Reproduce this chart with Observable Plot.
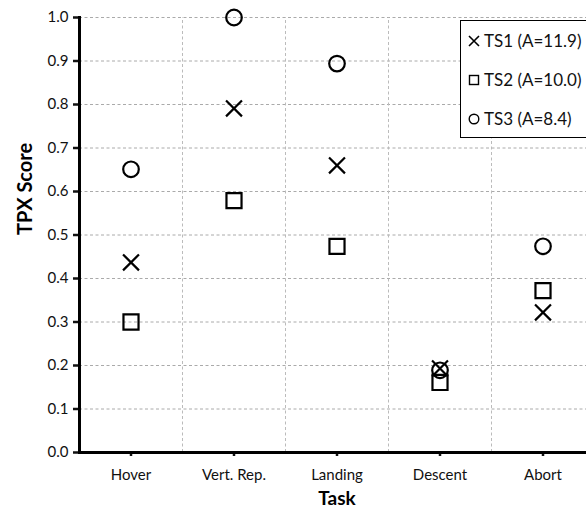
<!DOCTYPE html>
<html>
<head>
<meta charset="utf-8">
<script src="https://cdn.jsdelivr.net/npm/d3@7"></script>
<script src="https://cdn.jsdelivr.net/npm/@observablehq/plot@0.6"></script>
<style>
  html, body { margin: 0; padding: 0; background: #fff; }
  #wrap { position: relative; width: 586px; height: 514px; overflow: hidden; font-family: Lato, "Open Sans", sans-serif; }
  #legend { position: absolute; left: 460px; top: 20px; width: 140px; height: 118px; border: 1.5px solid #000; background: #fff; box-sizing: border-box; }
  .row { position: absolute; left: 7px; display: flex; align-items: center; font-size: 17px; color: #111; white-space: nowrap; }
  .row svg { margin-right: 4px; }
</style>
</head>
<body>
<div id="wrap"></div>
<script>
const tasks = ["Hover", "Vert. Rep.", "Landing", "Descent", "Abort"];
const seriesNames = ["TS1 (A=11.9)", "TS2 (A=10.0)", "TS3 (A=8.4)"];
const ts1 = [0.437, 0.791, 0.660, 0.193, 0.322];
const ts2 = [0.300, 0.579, 0.474, 0.161, 0.372];
const ts3 = [0.651, 1.000, 0.894, 0.189, 0.474];
const yTicks = [0, 0.1, 0.2, 0.3, 0.4, 0.5, 0.6, 0.7, 0.8, 0.9, 1.0];

const mk = vals => tasks.map((t, i) => ({task: t, value: vals[i]}));
const d1 = mk(ts1), d2 = mk(ts2), d3v = mk(ts3);

const xRange = [79, 594];
const bw = (xRange[1] - xRange[0]) / tasks.length;

const chart = Plot.plot({
  width: 586,
  height: 514,
  marginLeft: 79,
  marginTop: 17,
  marginBottom: 62,
  marginRight: 0,
  style: {fontFamily: "Lato, 'Open Sans', sans-serif", fontSize: "15px", color: "#111", background: "#fff", overflow: "visible"},
  x: {type: "band", domain: tasks, range: xRange, padding: 0, align: 0.5, label: null},
  y: {domain: [0, 1], ticks: yTicks, label: null},
  marks: [
    Plot.gridY(yTicks, {stroke: "#aaa", strokeOpacity: 1, strokeDasharray: "3,2.5"}),
    Plot.ruleX(tasks.slice(1), {dx: -bw / 2, stroke: "#bbb", strokeOpacity: 1, strokeDasharray: "3,2.5", y1: 0, y2: 1}),
    Plot.axisY(yTicks, {tickFormat: d3.format(".1f"), tickSize: 6, tickPadding: 5, strokeWidth: 2.5, fontSize: 15, label: null}),
    Plot.axisX({tickSize: 4, tickPadding: 13, strokeWidth: 2.5, fontSize: 15, label: null}),
    Plot.ruleY([0], {strokeWidth: 3, stroke: "#000"}),
    Plot.frame({anchor: "left", strokeWidth: 3, stroke: "#000"}),
    Plot.dot(d2, {x: "task", y: "value", symbol: "square", r: 8.5, stroke: "#000", strokeWidth: 2.2, fill: "none"}),
    Plot.dot(d3v, {x: "task", y: "value", symbol: "circle", r: 7.8, stroke: "#000", strokeWidth: 2.2, fill: "none"}),
    Plot.dot(d1, {x: "task", y: "value", symbol: "times", r: 7.3, stroke: "#000", strokeWidth: 2.2, fill: "none"}),
    Plot.text(["Task"], {frameAnchor: "bottom", x: () => tasks[2], dy: 52, fontWeight: "bold", fontSize: 19, fill: "#000"}),
    Plot.text(["TPX Score"], {frameAnchor: "left", dx: -54, rotate: -90, fontWeight: "bold", fontSize: 20, fill: "#000"})
  ]
});

const wrap = document.getElementById("wrap");
wrap.appendChild(chart);

const legend = document.createElement("div");
legend.id = "legend";
const syms = ["times", "square", "circle"];
const symPaths = {
  times: '<path d="M1,1L11,11M11,1L1,11" stroke="#000" stroke-width="1.6" fill="none"/>',
  square: '<rect x="1.5" y="1.5" width="9" height="9" stroke="#000" stroke-width="1.4" fill="none"/>',
  circle: '<circle cx="6" cy="6" r="4.8" stroke="#000" stroke-width="1.4" fill="none"/>'
};
const rowTops = [9, 48, 87];
seriesNames.forEach((name, i) => {
  const row = document.createElement("div");
  row.className = "row";
  row.style.top = rowTops[i] + "px";
  row.innerHTML = '<svg width="12" height="12">' + symPaths[syms[i]] + '</svg><span>' + name + '</span>';
  legend.appendChild(row);
});
wrap.appendChild(legend);
</script>
</body>
</html>
